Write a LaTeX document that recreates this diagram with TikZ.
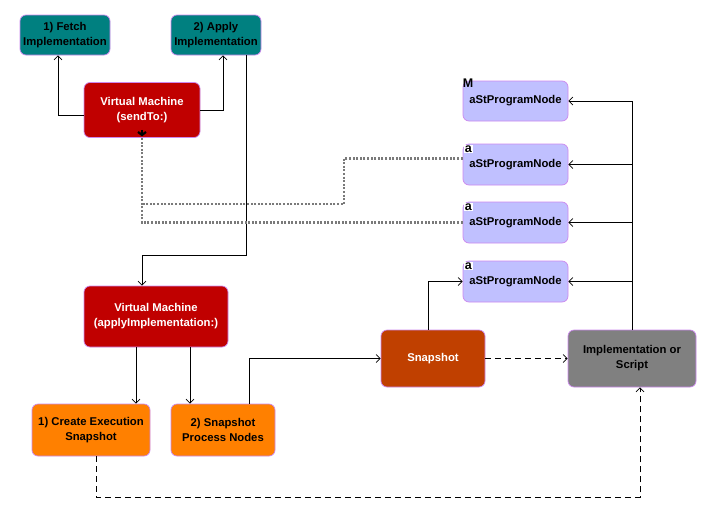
\documentclass[tikz,border=0pt]{standalone}
\usepackage{fontspec}
\setmainfont{Liberation Sans}
\usetikzlibrary{arrows.meta,calc}
\definecolor{tealbox}{HTML}{008080}
\definecolor{vmred}{HTML}{C00000}
\definecolor{stepor}{HTML}{FF8000}
\definecolor{snapor}{HTML}{C04000}
\definecolor{implgray}{HTML}{808080}
\definecolor{nodelav}{HTML}{C0C0FF}
\definecolor{edgepurple}{HTML}{CC88EE}
\definecolor{dotgray}{HTML}{7A7A7A}
\begin{document}
\begin{tikzpicture}[x=1pt,y=-1pt,
  box/.style={rectangle,rounded corners=6pt,draw=edgepurple,line width=0.7pt,
    align=center,font=\fontsize{11.3}{15}\selectfont\bfseries,inner sep=2pt},
  fetchbox/.style={box,fill=tealbox,text=black,minimum width=90pt,minimum height=40pt},
  vmbox/.style={box,fill=vmred,text=white},
  stepbox/.style={box,fill=stepor,text=black,minimum height=52pt},
  snapbox/.style={box,fill=snapor,text=white,minimum width=104pt,minimum height=57pt},
  implbox/.style={box,fill=implgray,text=black,minimum width=128pt,minimum height=57pt},
  astbox/.style={box,fill=nodelav,text=black,minimum width=105pt,minimum height=41pt},
  tag/.style={anchor=north west,inner sep=0.6pt,font=\fontsize{12.5}{12.5}\selectfont\bfseries},
  arr/.style={draw=black,line width=0.7pt,-{Straight Barb[length=4pt,width=8pt]}},
  dasharr/.style={arr,dash pattern=on 6pt off 4pt},
  dotline/.style={draw=dotgray,line width=2.8pt,dash pattern=on 2pt off 1.6pt}
]
\useasboundingbox (0,0) rectangle (702,512);
\fill[white] (0,0) rectangle (702,512);

% top row: the two steps of sendTo:
\node[fetchbox] (fetch) at (65,35) {1) Fetch\\Implementation};
\node[fetchbox] (apply) at (216,35) {2) Apply\\Implementation};
\node[vmbox,minimum width=116pt,minimum height=55pt] (vm1) at (142,110) {Virtual Machine\\(sendTo:)};

% applyImplementation: and its steps
\node[vmbox,minimum width=144pt,minimum height=61pt] (vm2) at (156,316.5) {Virtual Machine\\(applyImplementation:)};
\node[stepbox,minimum width=118pt] (create) at (91,430) {1) Create Execution\\Snapshot};
\node[stepbox,minimum width=104pt] (spn) at (223,430) {2) Snapshot\\Process Nodes};

\node[snapbox] (snap) at (433,358.5) {Snapshot};
\node[implbox] (impl) at (632,358.5) {Implementation or\\Script};

% program nodes
\node[astbox,minimum height=40pt] (a1) at (515.5,101) {aStProgramNode};
\node[astbox] (a2) at (515.5,164.5) {aStProgramNode};
\node[astbox] (a3) at (515.5,222.5) {aStProgramNode};
\node[astbox] (a4) at (515.5,281.5) {aStProgramNode};
\node[tag,inner sep=0pt] (t1) at ([xshift=0pt,yshift=1.5pt]a1.north west) {M};
\node[tag,fill=white] (t2) at ([xshift=1.5pt,yshift=-1.5pt]a2.north west) {a};
\node[tag,fill=white] (t3) at ([xshift=1.5pt,yshift=-1.5pt]a3.north west) {a};
\node[tag,fill=white] (t4) at ([xshift=1.5pt,yshift=-1.5pt]a4.north west) {a};

% sendTo: connectors
\draw[arr] ([yshift=-5pt]vm1.west) -| ([xshift=-7pt]fetch.south);
\draw[arr] (vm1.east) -| ([xshift=7pt]apply.south);
\draw[arr] ([xshift=30pt]apply.south) -- ++(0,200) -| ([xshift=-14pt]vm2.north);

% applyImplementation: connectors
\draw[arr] ([xshift=-20pt]vm2.south) -- ([xshift=-20pt]vm2.south |- create.north);
\draw[arr] ([xshift=34pt]vm2.south) -- ([xshift=34pt]vm2.south |- spn.north);
\draw[arr] ([xshift=26pt]spn.north) |- (snap.west);
\draw[arr] ([xshift=-5pt]snap.north) |- (a4.west);

% implementation holds the program nodes
\draw[arr] (impl.north) |- (a1.east);
\draw[arr] (impl.north |- a2.east) -- (a2.east);
\draw[arr] (impl.north |- a3.east) -- (a3.east);
\draw[arr] (impl.north |- a4.east) -- (a4.east);

% dashed links to the implementation
\draw[dasharr] (snap.east) -- (impl.west);
\draw[dasharr] ([xshift=5pt]create.south) -- ++(0,41) -| ([xshift=8pt]impl.south);

% dotted feedback to the sendTo: machine
\coordinate (bend) at (344,204);
\draw[dotline] ([yshift=6pt]a2.west) -| (bend) -- (bend -| vm1.south);
\draw[dotline] (a3.west) -| ([yshift=7pt]vm1.south);
\draw[line width=2.2pt,-{Straight Barb[length=3pt,width=8pt]}] ([yshift=8pt]vm1.south) -- ([yshift=1.5pt]vm1.south);
\end{tikzpicture}
\end{document}
